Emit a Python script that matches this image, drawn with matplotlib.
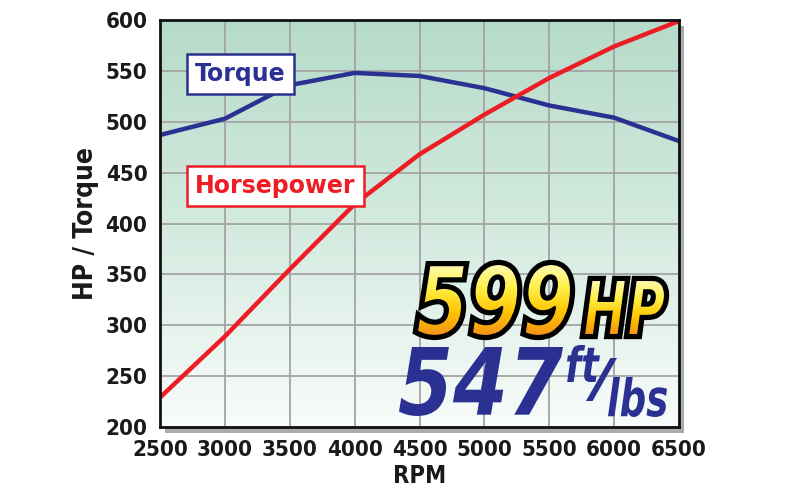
import numpy as np
import matplotlib.pyplot as plt
from matplotlib.colors import LinearSegmentedColormap
from matplotlib.patches import Rectangle, PathPatch
from matplotlib.textpath import TextPath
from matplotlib.font_manager import FontProperties
from matplotlib.transforms import Affine2D

rpm = [2500, 3000, 3500, 4000, 4500, 5000, 5500, 6000, 6500]
torque = [487, 503, 536, 548, 545, 533, 516, 504, 481]
horsepower = [229, 289, 355, 419, 468, 507, 543, 574, 599]
x_ticks = [2500, 3000, 3500, 4000, 4500, 5000, 5500, 6000, 6500]
y_ticks = [200, 250, 300, 350, 400, 450, 500, 550, 600]

blue = "#2b3192"
red = "#ee1c24"
ink = "#1a1a1a"

fig = plt.figure(figsize=(8, 5), dpi=100)
fig.patch.set_facecolor("white")

# plot area in pixels: x 160..679, y 20..427 (from top)
L, R, T, B = 160, 679, 20, 427
ax = fig.add_axes([L / 800, (500 - B) / 500, (R - L) / 800, (B - T) / 500])
ax.set_zorder(1)

# drop shadow behind the frame (the gradient covers all but the offset part)
ax.add_patch(Rectangle((5 / (R - L), -6 / (B - T)), 1, 1, transform=ax.transAxes,
                       facecolor="#a9abae", edgecolor="none", clip_on=False, zorder=-1))

# green gradient background
bg = LinearSegmentedColormap.from_list("bg", ["#f8fcfa", "#d3eadf", "#b6dbc9"])
grad = np.linspace(0, 1, 256).reshape(-1, 1)
ax.imshow(grad, extent=[2500, 6500, 200, 600], origin="lower", aspect="auto",
          cmap=bg, zorder=0)

ax.plot(rpm, torque, color=blue, lw=3.2, zorder=3, solid_capstyle="butt")
ax.plot(rpm, horsepower, color=red, lw=3.2, zorder=3, solid_capstyle="butt")

ax.set_xlim(2500, 6500)
ax.set_ylim(200, 600)
ax.set_xticks(x_ticks)
ax.set_yticks(y_ticks)
ax.grid(True, color="#a3a3a3", lw=1.3, zorder=1)
ax.set_axisbelow(True)
ax.tick_params(length=0, pad=9)
for lab in ax.get_xticklabels() + ax.get_yticklabels():
    lab.set_fontfamily("DejaVu Sans")
    lab.set_fontstretch("condensed")
    lab.set_fontweight("bold")
    lab.set_fontsize(16)
    lab.set_color(ink)
for s in ax.spines.values():
    s.set_linewidth(2)
    s.set_color("#111111")
    s.set_zorder(5)

ax.set_xlabel("RPM", fontsize=17, fontweight="bold", fontstretch="condensed",
              color=ink, labelpad=3)
ax.set_ylabel("HP / Torque", fontsize=19, fontweight="bold", fontstretch="condensed",
              color=ink, labelpad=5)

ax.text(3120, 547, "Torque", color=blue, fontsize=17, fontweight="bold",
        ha="center", va="center", zorder=6,
        bbox=dict(boxstyle="square,pad=0.35", fc="white", ec=blue, lw=1.8))
ax.text(3390, 437, "Horsepower", color=red, fontsize=17, fontweight="bold",
        ha="center", va="center", zorder=6,
        bbox=dict(boxstyle="square,pad=0.35", fc="white", ec=red, lw=1.8))

# overlay axes in pixel units (y up) for the big headline text
ov = fig.add_axes([0, 0, 1, 1])
ov.set_zorder(2)
ov.set_xlim(0, 800)
ov.set_ylim(0, 500)
ov.axis("off")
ov.patch.set_alpha(0)

big = FontProperties(family="DejaVu Sans", weight="bold", style="oblique")


def fit_text(s, x0, x1, y0, y1, prop):
    tp = TextPath((0, 0), s, size=100, prop=prop)
    ext = tp.get_extents()
    tr = (Affine2D().translate(-ext.x0, -ext.y0)
          .scale((x1 - x0) / ext.width, (y1 - y0) / ext.height)
          .translate(x0, y0))
    return tr.transform_path(tp)


gold = LinearSegmentedColormap.from_list("gold", ["#f28c1e", "#ffc400", "#fff04a", "#fffac0"])
for s, box in [("599", (417, 571, 164, 236)), ("HP", (584, 665, 165, 220))]:
    p = fit_text(s, *box, big)
    ov.add_patch(PathPatch(p, fc="none", ec="black", lw=6, zorder=7))
    patch = PathPatch(p, fc="none", ec="none", zorder=8)
    ov.add_patch(patch)
    im = ov.imshow(grad, extent=[box[0] - 5, box[1] + 5, box[2] - 2, box[3] + 2],
                   origin="lower", aspect="auto", cmap=gold, zorder=8)
    im.set_clip_path(patch)
    ov.add_patch(PathPatch(p, fc="none", ec="black", lw=1.5, zorder=9))

for s, box in [("547", (399, 563, 84, 153)), ("ft", (567, 600, 118, 155)),
               ("/", (586, 617, 99, 142)), ("lbs", (608, 667, 83, 123))]:
    ov.add_patch(PathPatch(fit_text(s, *box, big), fc=blue, ec="none", zorder=8))

ov.set_xlim(0, 800)
ov.set_ylim(0, 500)

fig.savefig("out.png", dpi=100)
